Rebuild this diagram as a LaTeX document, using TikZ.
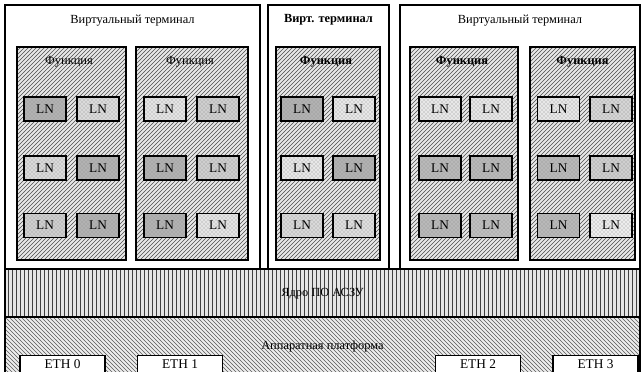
\documentclass[tikz,border=0pt]{standalone}
\usepackage{fontspec}
\setmainfont{Liberation Serif}
\usetikzlibrary{positioning,fit,patterns}

\begin{document}
\begin{tikzpicture}[
  x=0.75pt,y=-0.75pt,
  every node/.style={font=\fontsize{10}{12}\selectfont},
  title/.style={font=\fontsize{9.3}{11}\selectfont},
  frame/.style={draw,thick,inner sep=0pt},
  term/.style={frame,fill=white},
  func/.style={frame,preaction={fill=gray!18},pattern=north east lines,pattern color=black!70},
  ln/.style={draw,very thick,minimum width=31.5pt,minimum height=18pt,inner sep=0pt},
  core/.style={frame,preaction={fill=gray!20},pattern=vertical lines,pattern color=black!75},
  platform/.style={frame,preaction={fill=gray!14},pattern=north west lines,pattern color=black!65},
  eth/.style={draw,thick,fill=white,minimum width=63.75pt,inner sep=2pt,text height=8pt,text depth=20pt,anchor=north}
]
  \useasboundingbox (0,0) rectangle (644,372);
  \clip (0,0) rectangle (644,372);

  % virtual terminals
  \node[term,fit={(5,5)(260,269)}] (term1) {};
  \node[term,fit={(268,5)(389,269)}] (term2) {};
  \node[term,fit={(400,5)(640,269)}] (term3) {};
  \node[title] (title1) at (132.5,21) {Виртуальный терминал};
  \node[title] (title2) at (328.5,20) {\bfseries Вирт. терминал};
  \node[title] (title3) at (520,21) {Виртуальный терминал};

  % functions
  \node[func,fit={(17,47)(126,260)}] (func1) {};
  \node[func,fit={(136,47)(248,260)}] (func2) {};
  \node[func,fit={(276,47)(380,260)}] (func3) {};
  \node[func,fit={(410,47)(518,260)}] (func4) {};
  \node[func,fit={(530,47)(635,260)}] (func5) {};
  \node[title] (flabel1) at (69,62) {Функция};
  \node[title] (flabel2) at (190,62) {Функция};
  \node[title] (flabel3) at (326,62) {\bfseries Функция};
  \node[title] (flabel4) at (462,62) {\bfseries Функция};
  \node[title] (flabel5) at (582.5,62) {\bfseries Функция};

  % logical nodes
  \foreach \x/\y/\s/\n in {45/109/60/a1,98/109/28/a2,45/168/28/a3,98/168/60/a4,45/225.5/38/a5,98/225.5/60/a6,
    165/109/20/b1,218/109/38/b2,165/168/60/b3,218/168/38/b4,165/225.5/60/b5,218/225.5/20/b6,
    302/109/60/c1,354/109/18/c2,302/168/18/c3,354/168/60/c4,302/225.5/30/c5,354/225.5/25/c6,
    440/109/18/d1,491/109/18/d2,440/168/55/d3,491/168/55/d4,440/225.5/55/d5,491/225.5/50/d6,
    558.5/109/18/e1,611/109/32/e2,558.5/168/55/e3,611/168/38/e4,558.5/225.5/55/e5,611/225.5/14/e6}
    \node[ln,preaction={fill=gray!\s},pattern=crosshatch dots,pattern color=black!45] (ln\n) at (\x,\y) {LN};

  % core and hardware
  \node[core,fit={(5,269)(640,317)}] (core) {};
  \node[title] (corelabel) at (322.5,294) {Ядро ПО АСЗУ};
  \node[platform,fit={(5,317)(640,400)}] (platform) {};
  \node[title] (platlabel) at (322.5,347) {Аппаратная платформа};
  \node[eth] (eth0) at (62.5,355) {ETH 0};
  \node[eth] (eth1) at (180,355) {ETH 1};
  \node[eth] (eth2) at (478,355) {ETH 2};
  \node[eth] (eth3) at (595.5,355) {ETH 3};
\end{tikzpicture}
\end{document}
